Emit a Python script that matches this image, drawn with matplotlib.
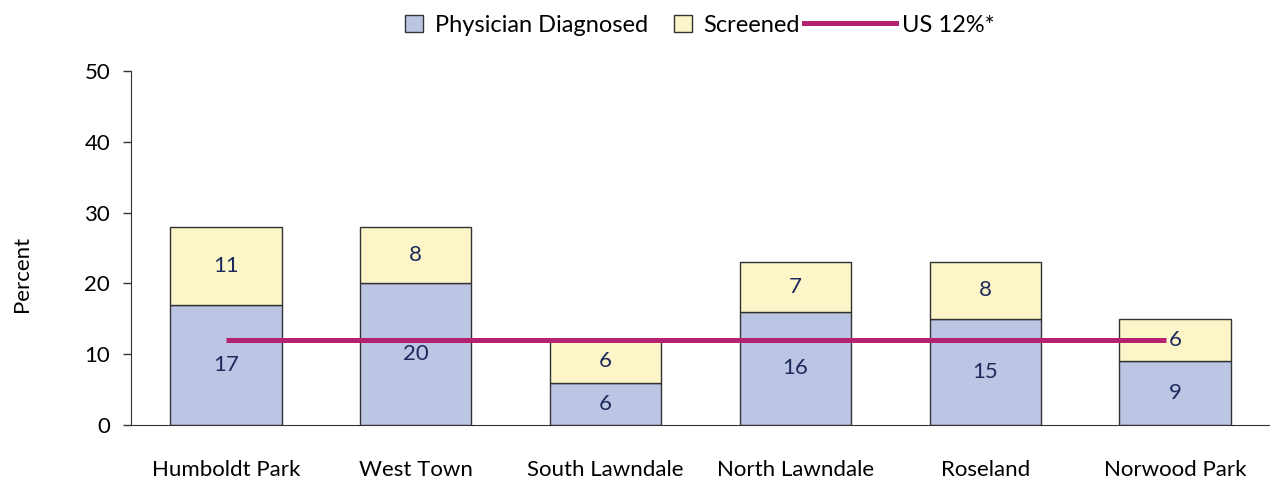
import matplotlib
matplotlib.use("Agg")
from matplotlib import pyplot as plt
from matplotlib.patches import Patch
from matplotlib.lines import Line2D
import numpy as np

communities = ['Humboldt Park', 'West Town', 'South Lawndale', 'North Lawndale', 'Roseland', 'Norwood Park']
diagnosed = [17, 20, 6, 16, 15, 9]
screened = [11, 8, 6, 7, 8, 6]
us_rate = 12

plt.rcParams['font.family'] = ['Lato', 'DejaVu Sans']

blue = '#bcc5e3'
yellow = '#fbf5c8'
edge = '#333333'
magenta = '#b52370'
navy = '#1f2a5c'
fs = 16

fig = plt.figure(figsize=(12.7, 4.79), dpi=100)
ax = fig.add_axes([131 / 1270, 1 - 425 / 479, 1 - 131 / 1270, 354 / 479])

x = np.arange(len(communities))
w = 0.587
ax.bar(x, diagnosed, w, color=blue, edgecolor=edge, linewidth=1, zorder=2)
ax.bar(x, screened, w, bottom=diagnosed, color=yellow, edgecolor=edge, linewidth=1, zorder=2)

for i in range(len(x)):
    ax.text(x[i], diagnosed[i] / 2, str(diagnosed[i]), ha='center', va='center',
            fontsize=fs, color=navy, zorder=4)
    ax.text(x[i], diagnosed[i] + screened[i] / 2, str(screened[i]), ha='center', va='center',
            fontsize=fs, color=navy, zorder=4)

ax.plot([x[0], x[-1] - 0.05], [us_rate, us_rate], color=magenta, linewidth=3.6, zorder=3,
        solid_capstyle='butt')

ax.set_xlim(-0.5, 5.5)
ax.set_ylim(0, 50)
ax.set_yticks(range(0, 51, 10))
ax.set_xticks(x)
ax.set_xticklabels(communities)
ax.tick_params(axis='x', length=0, pad=25, labelsize=fs)
ax.tick_params(axis='y', length=6, width=1, color=edge, pad=9, labelsize=fs)
for s in ['top', 'right']:
    ax.spines[s].set_visible(False)
for s in ['left', 'bottom']:
    ax.spines[s].set_color(edge)
ax.set_ylabel('Percent', fontsize=fs)
ax.yaxis.set_label_coords(-0.087, 0.427)

h1 = [Patch(facecolor=blue, edgecolor=edge, label='Physician Diagnosed'),
      Patch(facecolor=yellow, edgecolor=edge, label='Screened')]
fig.legend(handles=h1, loc='center right', bbox_to_anchor=(800 / 1270, 1 - 25 / 479),
           ncol=2, frameon=False, fontsize=17, handlelength=0.75, handleheight=0.75,
           handletextpad=0.5, columnspacing=1.1, borderaxespad=0, borderpad=0)
h2 = [Line2D([0], [0], color=magenta, linewidth=3.6, label='US 12%*')]
fig.legend(handles=h2, loc='center left', bbox_to_anchor=(804 / 1270, 1 - 25 / 479),
           frameon=False, fontsize=17, handlelength=3.9, handletextpad=0.25,
           borderaxespad=0, borderpad=0)

fig.savefig('out.png', dpi=100)
